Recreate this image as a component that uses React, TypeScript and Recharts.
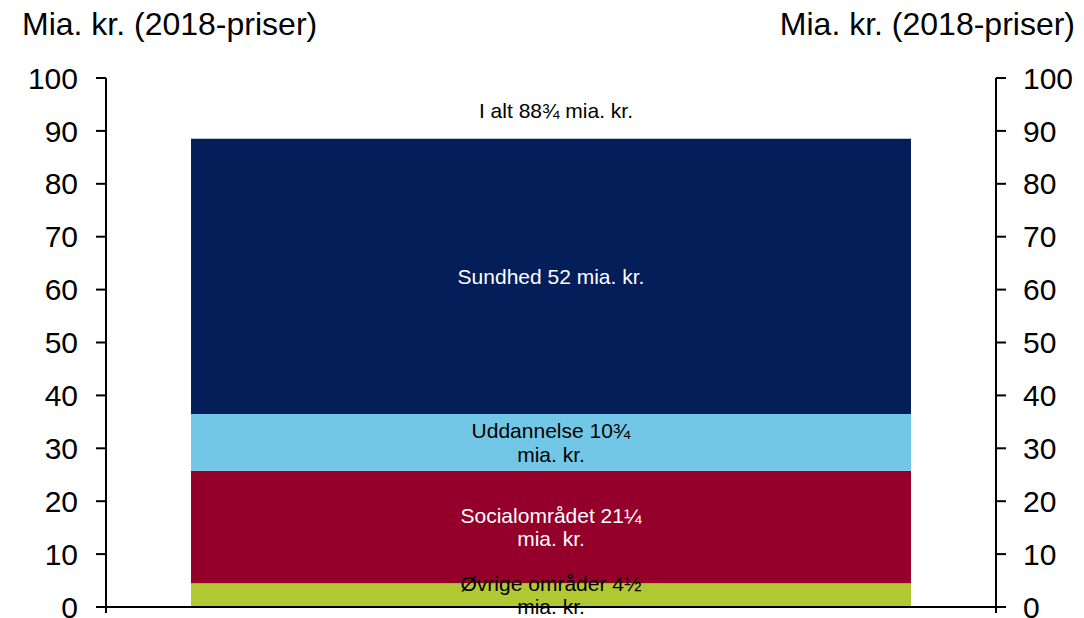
import React from "react"
import { BarChart, Bar, XAxis, YAxis, ReferenceLine } from "recharts"

// one stacked column, bottom segment first
const categories = ["Udgifter"]
const seriesKeys = ["ovrige", "social", "uddannelse", "sundhed"]
const seriesValues = [4.5, 21.25, 10.75, 52]
const seriesLabels = [
  ["Øvrige områder 4½", "mia. kr."],
  ["Socialområdet 21¼", "mia. kr."],
  ["Uddannelse 10¾", "mia. kr."],
  ["Sundhed 52 mia. kr."],
]
const totalLabel = "I alt 88¾ mia. kr."
const yTicks = [0, 10, 20, 30, 40, 50, 60, 70, 80, 90, 100]
const unitTitle = "Mia. kr. (2018-priser)"

const colors = ["#b1c833", "#95002b", "#72c7e7", "#041e5a"]
const labelColors = ["#000000", "#ffffff", "#000000", "#ffffff"]

const FONT = "'Liberation Sans', Arial, sans-serif"

// the value axes run a little below zero so their lines poke out under the baseline
const yDomain = [-1.134, 100]

const data = categories.map((name) => {
  const row: Record<string, string | number> = { name }
  seriesKeys.forEach((k, i) => {
    row[k] = seriesValues[i]
  })
  return row
})

const segmentLabel = (idx: number) => (props: any) => {
  const x = Number(props.x)
  const y = Number(props.y)
  const w = Number(props.width)
  const h = Number(props.height)
  const lines = seriesLabels[idx]
  const lineH = 23.5
  const cx = x + w / 2
  const cy = y + h / 2
  return (
    <g>
      <text x={cx} textAnchor="middle" fontFamily={FONT} fontSize={21} fill={labelColors[idx]}>
        {lines.map((line, i) => (
          <tspan key={i} x={cx} y={cy + (i - (lines.length - 1) / 2) * lineH} dominantBaseline="central">
            {line}
          </tspan>
        ))}
      </text>
      {idx === seriesKeys.length - 1 && (
        <text x={cx + 5} y={y - 28} textAnchor="middle" dominantBaseline="central" fontFamily={FONT} fontSize={21} fill="#000">
          {totalLabel}
        </text>
      )}
    </g>
  )
}

const axisStroke = { stroke: "#000", strokeWidth: 2 }
const tickStyle = { fill: "#000", fontSize: 30, fontFamily: FONT }
const titleStyle: React.CSSProperties = {
  position: "absolute",
  top: 8,
  fontFamily: FONT,
  fontSize: 32,
  lineHeight: "32px",
  color: "#000",
  whiteSpace: "nowrap",
}

export default function App() {
  return (
    <div style={{ position: "absolute", left: 0, top: 0, width: 1084, height: 618, background: "#fff", overflow: "hidden" }}>
      <div style={{ ...titleStyle, left: 22 }}>{unitTitle}</div>
      <div style={{ ...titleStyle, right: 9 }}>{unitTitle}</div>
      <BarChart
        width={1084}
        height={618}
        data={data}
        margin={{ top: 78, right: 0, left: 0, bottom: 5 }}
        style={{ position: "absolute", left: 0, top: 0 }}
      >
        <XAxis xAxisId="cat" dataKey="name" hide />
        <YAxis
          yAxisId="left"
          orientation="left"
          domain={yDomain}
          allowDataOverflow
          ticks={yTicks}
          interval={0}
          width={106}
          tickSize={10}
          tickMargin={18}
          axisLine={axisStroke}
          tickLine={axisStroke}
          tick={tickStyle}
        />
        <YAxis
          yAxisId="right"
          orientation="right"
          domain={yDomain}
          allowDataOverflow
          ticks={yTicks}
          interval={0}
          width={88}
          tickSize={10}
          tickMargin={17}
          axisLine={axisStroke}
          tickLine={axisStroke}
          tick={tickStyle}
        />
        {seriesKeys.map((k, i) => (
          <Bar
            key={k}
            dataKey={k}
            stackId="total"
            xAxisId="cat"
            yAxisId="left"
            fill={colors[i]}
            barSize={720}
            isAnimationActive={false}
            label={segmentLabel(i)}
          />
        ))}
        <ReferenceLine y={0} xAxisId="cat" yAxisId="left" stroke="#000" strokeWidth={2} />
      </BarChart>
    </div>
  )
}
